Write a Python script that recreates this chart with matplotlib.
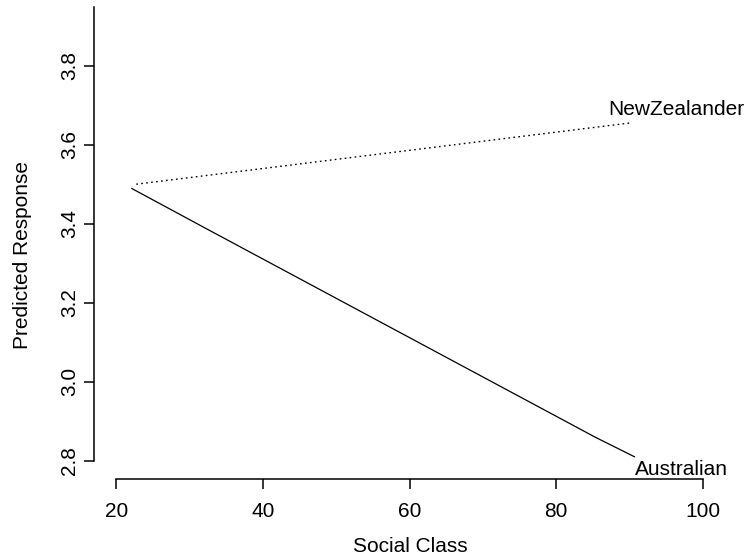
import matplotlib
matplotlib.use("Agg")
import matplotlib.pyplot as plt

# predicted response by social class for each group
aus_x = [22.1, 32.1, 85.4, 90.7]
aus_y = [3.489, 3.389, 2.859, 2.810]
nz_x = [22.7, 90.1]
nz_y = [3.500, 3.655]

x_ticks = [20, 40, 60, 80, 100]
y_ticks = [2.8, 3.0, 3.2, 3.4, 3.6, 3.8]
y_tick_labels = ["2.8", "3.0", "3.2", "3.4", "3.6", "3.8"]

plt.rcParams['font.family'] = ['Liberation Sans', 'DejaVu Sans']
FS = 15

W, H = 748, 558
fig = plt.figure(figsize=(W / 100, H / 100), dpi=100)
left, right, top, bottom = 94, 726, 7, 478.7
ax = fig.add_axes([left / W, 1 - bottom / H, (right - left) / W, (bottom - top) / H])

ax.plot(aus_x, aus_y, color="black", lw=0.9)
ax.plot(nz_x, nz_y, color="black", lw=1.0, linestyle=(0, (1.2, 2.4)))

ax.text(aus_x[-1] + 0.1, 2.7638, "Australian", fontsize=FS, ha="left", va="baseline")
ax.text(87.1, 3.675, "NewZealander", fontsize=FS, ha="left", va="baseline")

ax.set_xlim(16.93, 103.2)
ax.set_ylim(2.7544, 3.9486)

for s in ("top", "right"):
    ax.spines[s].set_visible(False)
ax.spines["left"].set_bounds(2.8, 3.9486)
ax.spines["bottom"].set_bounds(20, 100)
ax.spines["left"].set_linewidth(1.1)
ax.spines["bottom"].set_linewidth(1.1)

ax.set_xticks(x_ticks)
ax.set_yticks(y_ticks)
ax.set_yticklabels(y_tick_labels)
ax.tick_params(direction="out", length=7.5, width=1.1, labelsize=FS)
ax.tick_params(axis="x", pad=9)
ax.tick_params(axis="y", pad=3)
for lab in ax.get_yticklabels():
    lab.set_rotation(90)
    lab.set_va("center")
    lab.set_ha("right")

fig.text(410 / W, 1 - 546 / H, "Social Class", fontsize=FS, ha="center", va="center")
fig.text(23 / W, 1 - 255 / H, "Predicted Response", fontsize=FS, ha="center", va="center",
         rotation=90)

fig.savefig("out.png", dpi=100)
